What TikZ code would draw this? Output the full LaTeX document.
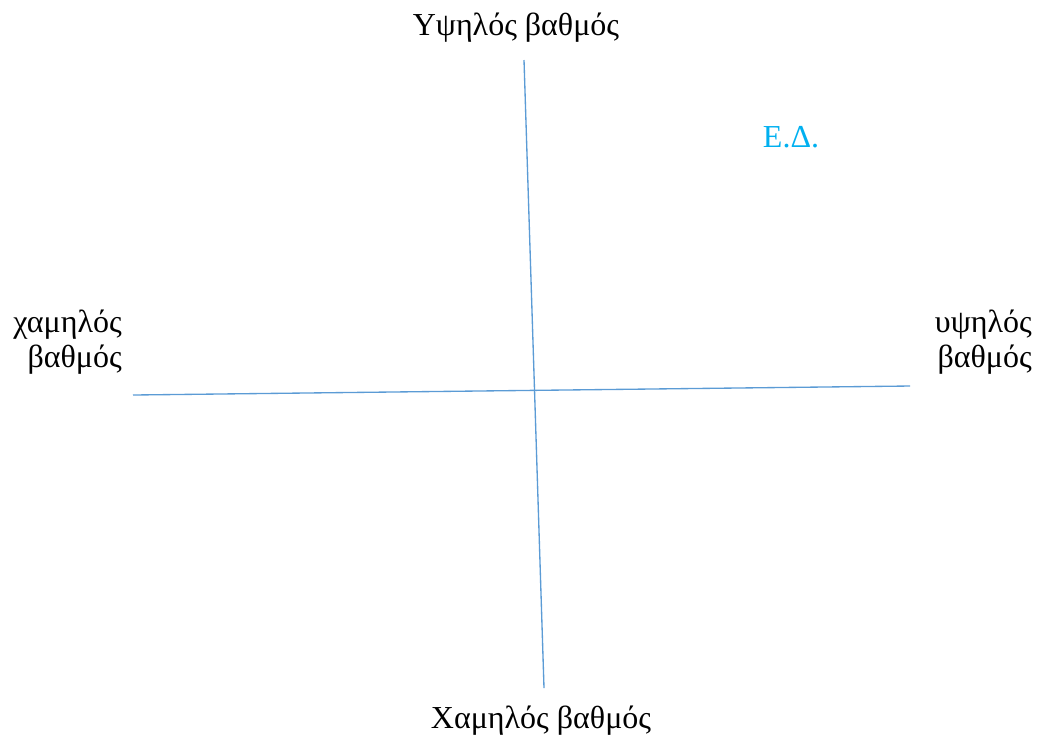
\documentclass[tikz,border=0pt]{standalone}
\usepackage{fontspec}
\setmainfont{Liberation Serif}
\definecolor{axisblue}{RGB}{91,155,213}
\definecolor{edcyan}{RGB}{0,176,240}
\begin{document}
\begin{tikzpicture}[x=0.75pt,y=-0.75pt,
  lbl/.style={font=\fontsize{24}{26.5}\selectfont, inner sep=0pt, align=right},
  axis/.style={draw=axisblue, line width=1pt}]
\useasboundingbox (0,0) rectangle (1037,744);
\coordinate (vt) at (524,60);
\coordinate (vb) at (544,688);
\coordinate (hl) at (133,395);
\coordinate (hr) at (910,386);
\draw[axis] (vt) -- (vb);
\draw[axis] (hl) -- (hr);
\node[lbl] (top) at (516,28) {Υψηλός βαθμός};
\node[lbl] (bot) at (541,721) {Χαμηλός βαθμός};
\node[lbl, anchor=east] (left) at (122,342) {χαμηλός\\βαθμός};
\node[lbl, anchor=east] (right) at (1032,342) {υψηλός\\βαθμός};
\node[lbl, text=edcyan] (ed) at (791,137) {Ε.Δ.};
\end{tikzpicture}
\end{document}
